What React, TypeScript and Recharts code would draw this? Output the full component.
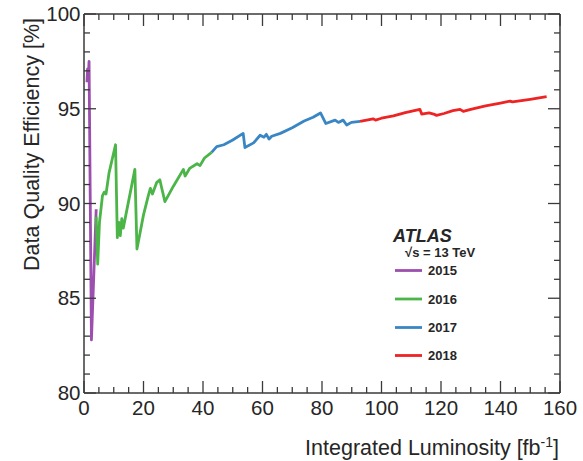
import React from "react";
import { LineChart, Line, XAxis, YAxis } from "recharts";

// cumulative data quality efficiency vs integrated luminosity, one array per year
const Y2015: [number, number][] = [
  [1.0, 96.4], [1.2, 97.1], [1.4, 96.6], [1.7, 97.5], [2.5, 82.8], [4.1, 89.7],
];
const Y2016: [number, number][] = [
  [4.1, 89.3], [4.6, 86.8], [5.2, 89.0], [6.2, 90.4], [6.8, 90.6], [7.4, 90.5], [8.4, 91.6],
  [10.6, 93.1], [11.2, 88.2], [11.7, 89.0], [12.2, 88.3], [12.7, 89.2], [13.2, 88.7],
  [17.1, 91.8], [17.8, 87.6], [20.0, 89.4], [21.6, 90.4], [22.3, 90.8], [23.0, 90.5],
  [24.4, 91.1], [25.5, 91.25], [26.0, 90.9], [27.2, 90.1], [30.0, 90.9], [33.4, 91.8],
  [34.0, 91.45], [35.5, 91.85], [38.0, 92.1], [39.0, 92.0], [40.5, 92.4], [42.9, 92.7],
];
const Y2017: [number, number][] = [
  [42.9, 92.7], [44.6, 93.0], [47.0, 93.1], [50.0, 93.35], [53.5, 93.7], [54.1, 92.95],
  [57.0, 93.2], [59.2, 93.6], [60.5, 93.5], [61.3, 93.65], [62.2, 93.4], [63.1, 93.55],
  [66.0, 93.7], [70.0, 94.0], [74.0, 94.35], [77.0, 94.55], [79.5, 94.78], [81.3, 94.22],
  [84.4, 94.4], [85.5, 94.28], [87.1, 94.4], [88.3, 94.14], [89.9, 94.28], [92.8, 94.33],
];
const Y2018: [number, number][] = [
  [92.8, 94.33], [95.0, 94.4], [97.2, 94.47], [98.0, 94.4], [100.0, 94.5], [104.0, 94.62],
  [108.0, 94.8], [111.0, 94.9], [112.9, 94.97], [113.5, 94.72], [116.0, 94.78],
  [117.5, 94.72], [118.5, 94.65], [121.0, 94.75], [124.0, 94.9], [126.4, 94.97],
  [127.5, 94.86], [130.0, 94.97], [135.0, 95.15], [140.0, 95.3], [143.2, 95.4],
  [144.0, 95.36], [150.0, 95.5], [155.5, 95.64],
];

const SERIES = [
  { name: "2015", color: "#9c4fae", pts: Y2015 },
  { name: "2016", color: "#4bb548", pts: Y2016 },
  { name: "2017", color: "#3a86c4", pts: Y2017 },
  { name: "2018", color: "#ee2424", pts: Y2018 },
];

const X_TICKS = Array.from({ length: 33 }, (_, i) => i * 5);
const Y_TICKS = Array.from({ length: 21 }, (_, i) => 80 + i);

const FONT = "'Liberation Sans', Arial, Helvetica, sans-serif";
const AXIS = "#3a3a3a";
const TXT = "#262626";

const W = 583, H = 461;
// plot box: x 84..560, y 14..393
const M = { top: 13, right: 22, bottom: 38, left: 44 };

function XTickBottom(props: any) {
  const { x, y, payload } = props;
  const major = payload.value % 20 === 0;
  return (
    <g>
      <line x1={x} x2={x} y1={y} y2={y - (major ? 12 : 6)} stroke={AXIS} strokeWidth={1.3} />
      {major && (
        <text x={x} y={y + 22} textAnchor="middle" fill={TXT} fontSize={20.5} fontFamily={FONT}>
          {payload.value}
        </text>
      )}
    </g>
  );
}

function XTickTop(props: any) {
  const { x, y, payload } = props;
  const major = payload.value % 20 === 0;
  return <line x1={x} x2={x} y1={y} y2={y + (major ? 12 : 6)} stroke={AXIS} strokeWidth={1.3} />;
}

function YTickLeft(props: any) {
  const { x, y, payload } = props;
  const major = payload.value % 5 === 0;
  return (
    <g>
      <line x1={x} x2={x + (major ? 12 : 6)} y1={y} y2={y} stroke={AXIS} strokeWidth={1.3} />
      {major && (
        <text x={x - 3.5} y={y + 7} textAnchor="end" fill={TXT} fontSize={20.5} fontFamily={FONT}>
          {payload.value}
        </text>
      )}
    </g>
  );
}

function YTickRight(props: any) {
  const { x, y, payload } = props;
  const major = payload.value % 5 === 0;
  return <line x1={x} x2={x - (major ? 12 : 6)} y1={y} y2={y} stroke={AXIS} strokeWidth={1.3} />;
}

export default function App() {
  const legendRows = [270.5, 299, 327.5, 355.5];
  return (
    <div style={{ position: "absolute", left: 0, top: 0, width: W, height: H, background: "#fff" }}>
      <LineChart width={W} height={H} margin={M}>
        <XAxis xAxisId="b" type="number" dataKey="x" domain={[0, 160]} ticks={X_TICKS} interval={0}
          height={30} tickSize={0} tickMargin={0} tick={<XTickBottom />} tickLine={false}
          axisLine={{ stroke: AXIS, strokeWidth: 1.5 }} allowDataOverflow />
        <XAxis xAxisId="t" orientation="top" type="number" dataKey="x" domain={[0, 160]} ticks={X_TICKS}
          interval={0} height={1} tickSize={0} tickMargin={0} tick={<XTickTop />} tickLine={false}
          axisLine={{ stroke: AXIS, strokeWidth: 1.5 }} allowDataOverflow />
        <YAxis yAxisId="l" type="number" domain={[80, 100]} ticks={Y_TICKS} interval={0}
          width={40} tickSize={0} tickMargin={0} tick={<YTickLeft />} tickLine={false}
          axisLine={{ stroke: AXIS, strokeWidth: 1.5 }} allowDataOverflow />
        <YAxis yAxisId="r" orientation="right" type="number" domain={[80, 100]} ticks={Y_TICKS}
          interval={0} width={1} tickSize={0} tickMargin={0} tick={<YTickRight />} tickLine={false}
          axisLine={{ stroke: AXIS, strokeWidth: 1.5 }} allowDataOverflow />
        {SERIES.map(s => (
          <Line key={s.name} xAxisId="b" yAxisId="l" data={s.pts.map(([x, y]) => ({ x, y }))}
            dataKey="y" stroke={s.color} strokeWidth={2.8} dot={false} isAnimationActive={false}
            type="linear" strokeLinejoin="round" />
        ))}
        {/* dummy series so the top/right axes have something bound to them */}
        <Line xAxisId="t" yAxisId="r" data={[{ x: 0, y: 80 }, { x: 160, y: 100 }]} dataKey="y"
          stroke="none" dot={false} isAnimationActive={false} legendType="none" />
      </LineChart>
      <svg width={W} height={H} style={{ position: "absolute", left: 0, top: 0, pointerEvents: "none" }}>
        <text x={559} y={455} textAnchor="end" fill={TXT} fontSize={21.5} fontFamily={FONT}>
          Integrated Luminosity [fb
          <tspan dy={-8} fontSize={14}>-1</tspan>
          <tspan dy={8}>]</tspan>
        </text>
        <text transform="translate(39,18) rotate(-90)" textAnchor="end" fill={TXT} fontSize={21.5} fontFamily={FONT}>
          Data Quality Efficiency [%]
        </text>
        <text x={393} y={242} fill={TXT} fontSize={18} fontWeight="bold" fontStyle="italic" fontFamily={FONT}>
          ATLAS
        </text>
        <text x={405} y={257} fill={TXT} fontSize={13} fontWeight="bold" fontFamily={FONT}>
          √s = 13 TeV
        </text>
        {SERIES.map((s, i) => (
          <g key={s.name}>
            <line x1={395} x2={422} y1={legendRows[i]} y2={legendRows[i]} stroke={s.color} strokeWidth={2.8} />
            <text x={428} y={legendRows[i] + 4.5} fill={TXT} fontSize={13} fontWeight="bold" fontFamily={FONT}>
              {s.name}
            </text>
          </g>
        ))}
      </svg>
    </div>
  );
}
